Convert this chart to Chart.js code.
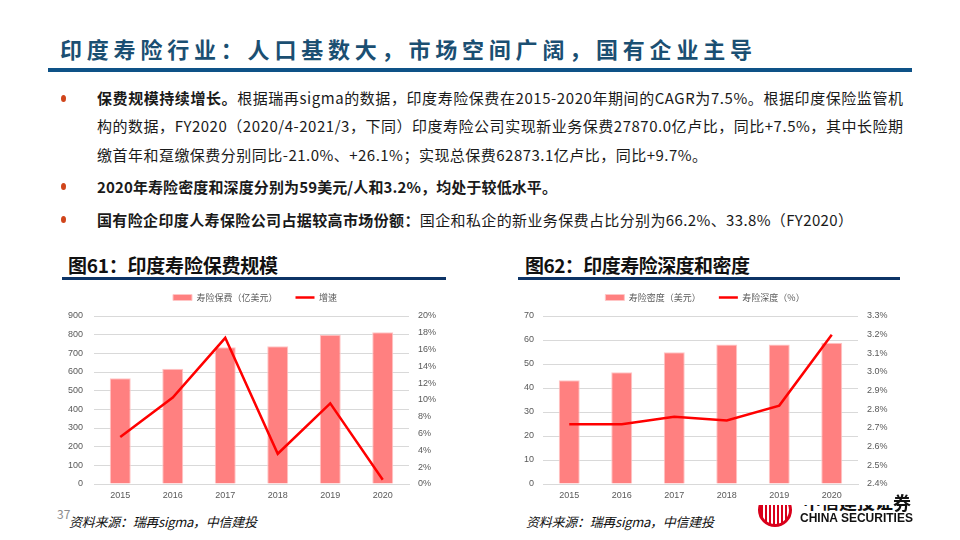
<!DOCTYPE html>
<html>
<head>
<meta charset="utf-8">
<script src="https://cdn.jsdelivr.net/npm/chart.js@4.4.1/dist/chart.umd.min.js"></script>
<style>
  body { margin: 0; width: 960px; height: 540px; background: #fff; position: relative; overflow: hidden; font-family: "Noto Sans CJK SC", sans-serif; }
  .abs { position: absolute; white-space: nowrap; }
  #title { left: 60px; top: 33px; font-size: 22px; line-height: 30px; color: #1b4f72; font-weight: bold; }
  #rule { left: 48px; top: 68px; width: 864px; height: 4px; background: #0e5287; }
  .dot { width: 5px; height: 7px; border-radius: 50%; background: #d0451b; left: 61px; }
  .txt { left: 97px; font-size: 15px; line-height: 20px; color: #1a1a1a; }
  .fig { font-size: 19px; line-height: 26px; font-weight: bold; color: #111; }
  .figrule { height: 3px; background: #0d3466; top: 277px; }
  .src { font-size: 13px; line-height: 18px; font-style: italic; color: #111; top: 513px; }
  canvas { position: absolute; z-index: 2; }
</style>
</head>
<body>
<div class="abs" id="title" data-w="692">印度寿险行业：人口基数大，市场空间广阔，国有企业主导</div>
<div class="abs" id="rule"></div>

<div class="abs dot" style="top:95px"></div>
<div class="abs txt" style="top:88px" data-w="806"><b>保费规模持续增长。</b>根据瑞再sigma的数据，印度寿险保费在2015-2020年期间的CAGR为7.5%。根据印度保险监管机</div>
<div class="abs txt" style="top:116px" data-w="806">构的数据，FY2020（2020/4-2021/3，下同）印度寿险公司实现新业务保费27870.0亿卢比，同比+7.5%，其中长险期</div>
<div class="abs txt" style="top:145px" data-w="610">缴首年和趸缴保费分别同比-21.0%、+26.1%；实现总保费62873.1亿卢比，同比+9.7%。</div>
<div class="abs dot" style="top:183px"></div>
<div class="abs txt" style="top:177px" data-w="460"><b>2020年寿险密度和深度分别为59美元/人和3.2%，均处于较低水平。</b></div>
<div class="abs dot" style="top:216px"></div>
<div class="abs txt" style="top:210px" data-w="756"><b>国有险企印度人寿保险公司占据较高市场份额：</b>国企和私企的新业务保费占比分别为66.2%、33.8%（FY2020）</div>

<div class="abs fig" style="left:68px;top:252px" data-w="210">图61：印度寿险保费规模</div>
<div class="abs figrule" style="left:62px;width:384px"></div>
<div class="abs fig" style="left:525px;top:252px" data-w="225">图62：印度寿险深度和密度</div>
<div class="abs figrule" style="left:518px;width:382px"></div>

<canvas id="premiumChart" width="410" height="230" style="left:50px;top:275px"></canvas>
<canvas id="depthChart" width="390" height="230" style="left:510px;top:275px"></canvas>

<div class="abs" style="left:57px;top:505px;font-size:12px;color:#8c8c8c">37</div>
<div class="abs src" style="left:69px" data-w="188">资料来源：瑞再sigma，中信建投</div>
<div class="abs src" style="left:526px" data-w="188">资料来源：瑞再sigma，中信建投</div>

<div class="abs" style="left:750px;top:505px;width:210px;height:35px;overflow:hidden;z-index:3">
  <div style="position:absolute;left:8px;top:-12px;width:34px;height:34px;border-radius:50%;box-sizing:border-box;border:3px solid #d9001b;background:repeating-linear-gradient(90deg,#d9001b 0 2.5px,#fff 2.5px 4px)"></div>
  <div style="position:absolute;left:53px;top:-17px;font-size:18px;font-weight:bold;color:#111;letter-spacing:0">中信建投证</div>
</div>
<div class="abs" style="left:893px;top:489px;font-size:18px;font-weight:bold;color:#111;z-index:3">券</div>
<div class="abs" style="left:800px;top:511px;font:bold 12px 'Liberation Sans';color:#111;z-index:3">CHINA SECURITIES</div>

<script>
const years = ['2015', '2016', '2017', '2018', '2019', '2020'];

// 图61 寿险保费（亿美元）和增速（%）
const premium = [566, 617, 733, 738, 799, 813];
const premiumGrowth = [5.6, 10.3, 17.4, 3.6, 9.6, 0.5];
const premiumTicks = [0, 100, 200, 300, 400, 500, 600, 700, 800, 900];
const growthTicks = [0, 2, 4, 6, 8, 10, 12, 14, 16, 18, 20];

// 图62 寿险密度（美元）和深度（%）
const density = [43.2, 46.6, 54.9, 58.1, 58.1, 58.9];
const depth = [2.72, 2.72, 2.76, 2.74, 2.82, 3.20];
const densityTicks = [0, 10, 20, 30, 40, 50, 60, 70];
const depthTicks = [2.4, 2.5, 2.6, 2.7, 2.8, 2.9, 3.0, 3.1, 3.2, 3.3];

// stretch text lines to the widths of the slide
document.querySelectorAll('[data-w]').forEach(function (el) {
    const n = el.textContent.length;
    const w = el.getBoundingClientRect().width;
    el.style.letterSpacing = ((+el.dataset.w - w) / (n - 1)) + 'px';
});

const tickFont = { family: 'Liberation Sans', size: 9 };
const tickColor = '#595959';

// a bit more room between legend and plot
const legendGap = {
    id: 'legendGap',
    afterInit(chart) {
        const fit = chart.legend.fit;
        chart.legend.fit = function () {
            fit.call(this);
            this.height += 4;
        };
    }
};

function makeChart(id, o) {
    return new Chart(document.getElementById(id), {
        type: 'bar',
        data: {
            labels: years,
            datasets: [
                {
                    label: o.barLabel,
                    data: o.bars,
                    backgroundColor: '#ff8080',
                    borderColor: '#ffc6c6',
                    borderWidth: 1,
                    categoryPercentage: 0.8,
                    barPercentage: 0.5,
                    order: 2,
                    yAxisID: 'y'
                },
                {
                    type: 'line',
                    label: o.lineLabel,
                    data: o.line,
                    borderColor: '#ff0000',
                    backgroundColor: '#ff0000',
                    borderWidth: 2.5,
                    pointRadius: 0,
                    tension: 0,
                    order: 1,
                    yAxisID: 'y1'
                }
            ]
        },
        options: {
            responsive: false,
            animation: false,
            layout: { padding: 0 },
            plugins: {
                tooltip: { enabled: false },
                legend: {
                    position: 'top',
                    labels: {
                        color: tickColor,
                        font: { family: 'Noto Sans CJK SC', size: 9 },
                        usePointStyle: true,
                        pointStyleWidth: 19,
                        boxHeight: 6,
                        padding: 18,
                        sort: (a, b) => a.datasetIndex - b.datasetIndex,
                        generateLabels(chart) {
                            const items = Chart.defaults.plugins.legend.labels.generateLabels(chart);
                            items.forEach(it => {
                                it.pointStyle = chart.data.datasets[it.datasetIndex].type === 'line' ? 'line' : 'rect';
                            });
                            return items;
                        }
                    }
                }
            },
            scales: {
                x: {
                    grid: { display: false, drawTicks: false },
                    border: { color: '#d9d9d9' },
                    ticks: { color: tickColor, font: tickFont, padding: 6 },
                    afterFit: s => { s.height = 21; }
                },
                y: {
                    position: 'left',
                    min: o.leftTicks[0],
                    max: o.leftTicks[o.leftTicks.length - 1],
                    afterBuildTicks: s => { s.ticks = o.leftTicks.map(v => ({ value: v })); },
                    grid: { color: '#d9d9d9', drawTicks: false },
                    border: { display: false },
                    ticks: { color: tickColor, font: tickFont, padding: o.leftPad },
                    afterFit: s => { s.width = o.leftW; }
                },
                y1: {
                    position: 'right',
                    min: o.rightTicks[0],
                    max: o.rightTicks[o.rightTicks.length - 1],
                    afterBuildTicks: s => { s.ticks = o.rightTicks.map(v => ({ value: v })); },
                    grid: { display: false, drawTicks: false },
                    border: { display: false },
                    ticks: { color: tickColor, font: tickFont, padding: 9, callback: o.rightFmt },
                    afterFit: s => { s.width = o.rightW; }
                }
            }
        },
        plugins: [legendGap]
    });
}

makeChart('premiumChart', {
    barLabel: '寿险保费（亿美元）',
    lineLabel: '增速',
    bars: premium,
    line: premiumGrowth,
    leftTicks: premiumTicks,
    rightTicks: growthTicks,
    rightFmt: v => v + '%',
    leftW: 44,
    leftPad: 11,
    rightW: 51
});

makeChart('depthChart', {
    barLabel: '寿险密度（美元）',
    lineLabel: '寿险深度（%）',
    bars: density,
    line: depth,
    leftTicks: densityTicks,
    rightTicks: depthTicks,
    rightFmt: v => v.toFixed(1) + '%',
    leftW: 33,
    leftPad: 9,
    rightW: 42
});
</script>
</body>
</html>
